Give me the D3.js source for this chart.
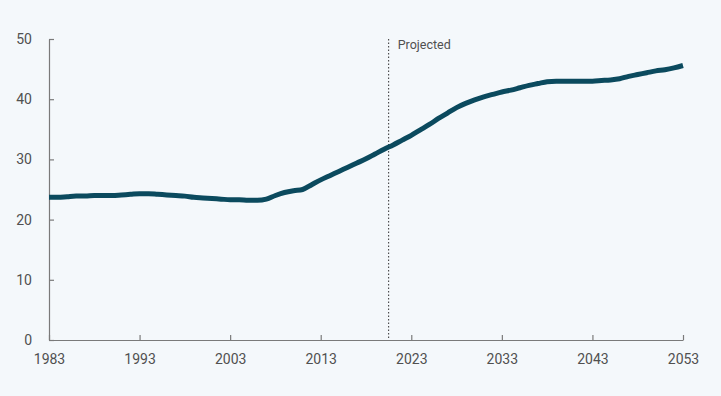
<!DOCTYPE html>
<html>
<head>
<meta charset="utf-8">
<script src="https://cdn.jsdelivr.net/npm/d3@7"></script>
<style>
  html, body { margin: 0; padding: 0; background: #f4f8fb; }
</style>
</head>
<body>
<div id="chart"></div>
<script>
// DATA
const years = d3.range(1983, 2054);
const values = [
	23.7, 23.7, 23.8, 23.9, 23.9, 24.0, 24.0, 24.0, 24.1, 24.2,
	24.3, 24.3, 24.2, 24.1, 24.0, 23.9, 23.7, 23.6, 23.5, 23.4,
	23.3, 23.3, 23.2, 23.2, 23.4, 24.0, 24.5, 24.8, 25.0, 25.8,
	26.6, 27.3, 28.0, 28.7, 29.4, 30.1, 30.9, 31.7, 32.4, 33.2,
	34.0, 34.9, 35.8, 36.8, 37.7, 38.6, 39.3, 39.9, 40.4, 40.8,
	41.2, 41.5, 41.9, 42.3, 42.6, 42.9, 43.0, 43.0, 43.0, 43.0,
	43.0, 43.1, 43.2, 43.4, 43.8, 44.1, 44.4, 44.7, 44.9, 45.2,
	45.6
];
const xTicks = [1983, 1993, 2003, 2013, 2023, 2033, 2043, 2053];
const yTicks = [0, 10, 20, 30, 40, 50];
const projectedStart = 2020.5;

//DIMENSIONS
const width = 721,
	height = 396,
	margin = { top: 39, right: 38, bottom: 56, left: 49 };

const svg = d3
	.select("#chart")
	.append("svg")
	.attr("width", width)
	.attr("height", height)
	.style("font-family", "Roboto, sans-serif");

const x = d3
	.scaleLinear()
	.domain([1983, 2053])
	.range([margin.left, width - margin.right]);

const y = d3
	.scaleLinear()
	.domain([0, 50])
	.range([height - margin.bottom, margin.top]);

//AXES
const xAxis = svg
	.append("g")
	.attr("transform", `translate(0, ${y(0)})`)
	.call(d3.axisBottom(x).tickValues(xTicks).tickFormat(d3.format("d")).tickSizeInner(-5).tickSizeOuter(0).tickPadding(14));

const yAxis = svg
	.append("g")
	.attr("transform", `translate(${x(1983)}, 0)`)
	.call(d3.axisLeft(y).tickValues(yTicks).tickSizeInner(-5).tickSizeOuter(0).tickPadding(17));

[xAxis, yAxis].forEach(a => {
	a.select(".domain").attr("stroke", "#7a7a7a").attr("stroke-width", 1.2);
	a.selectAll(".tick line").attr("stroke", "#7a7a7a").attr("stroke-width", 1.2);
	a.selectAll(".tick text").attr("fill", "#505050").style("font-size", "14px").style("font-family", "Roboto, sans-serif");
});

//PROJECTED DIVIDER
svg
	.append("line")
	.attr("x1", x(projectedStart))
	.attr("x2", x(projectedStart))
	.attr("y1", y(50))
	.attr("y2", y(0))
	.attr("stroke", "#333")
	.attr("stroke-width", 1)
	.attr("stroke-dasharray", "1.5,2");

svg
	.append("text")
	.attr("x", x(projectedStart) + 9)
	.attr("y", y(50) + 10)
	.style("font-size", "12.5px")
	.style("fill", "#505050")
	.text("Projected");

//LINE
const line = d3
	.line()
	.x((d, i) => x(years[i]))
	.y(d => y(d))
	.curve(d3.curveMonotoneX);

svg
	.append("path")
	.datum(values)
	.attr("d", line)
	.attr("fill", "none")
	.attr("stroke", "#0b4a5e")
	.attr("stroke-width", 5)
	.attr("stroke-linejoin", "round")
	.attr("stroke-linecap", "butt");
</script>
</body>
</html>
